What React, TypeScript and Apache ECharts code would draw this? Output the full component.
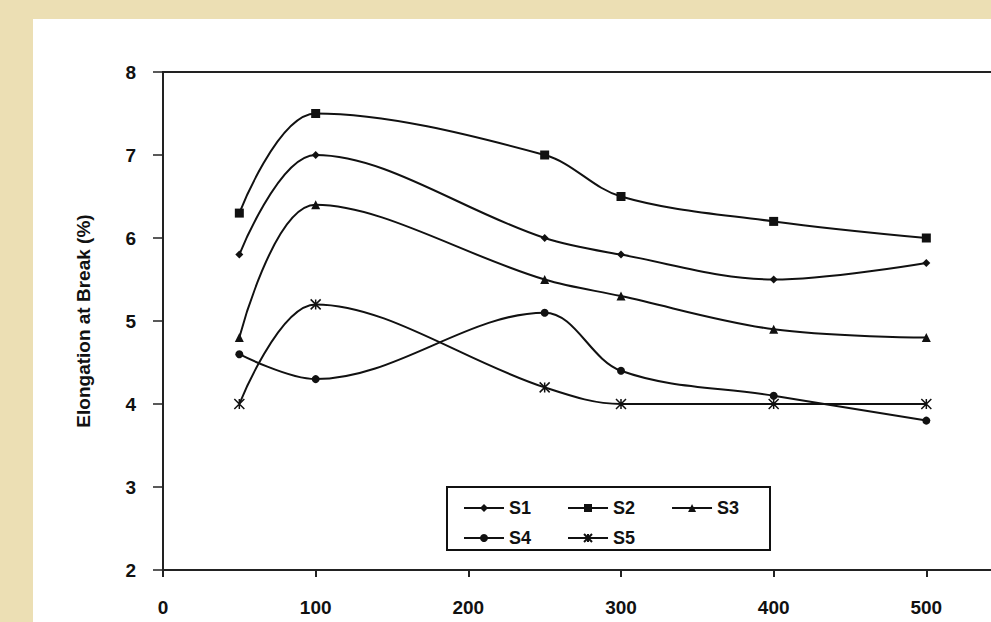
import React, { useEffect, useRef } from "react";
import * as echarts from "echarts";

const xValues = [50, 100, 250, 300, 400, 500];
const s1 = [5.8, 7.0, 6.0, 5.8, 5.5, 5.7];
const s2 = [6.3, 7.5, 7.0, 6.5, 6.2, 6.0];
const s3 = [4.8, 6.4, 5.5, 5.3, 4.9, 4.8];
const s4 = [4.6, 4.3, 5.1, 4.4, 4.1, 3.8];
const s5 = [4.0, 5.2, 4.2, 4.0, 4.0, 4.0];
const seriesNames = ["S1", "S2", "S3", "S4", "S5"];
const yTitle = "Elongation at Break (%)";

const asterisk = "path://M0,0L10,10M10,0L0,10M5,0L5,10";

export default function App() {
  const ref = useRef<HTMLDivElement>(null);
  useEffect(() => {
    if (!ref.current) return;
    const chart = echarts.init(ref.current, null, { renderer: "svg" });
    const all = [s1, s2, s3, s4, s5];
    const symbols = ["diamond", "rect", "triangle", "circle", asterisk];
    const sizes = [8, 9, 9, 8, 10];
    const font = "Liberation Sans, Arial, sans-serif";
    const legendText = { fontFamily: font, fontWeight: "bold", fontSize: 18, color: "#111" };
    chart.setOption({
      animation: false,
      backgroundColor: "#ecdfb4",
      graphic: [
        {
          type: "rect",
          shape: { x: 33, y: 19, width: 1200, height: 700 },
          style: { fill: "#ffffff" },
          z: -10,
        },
        {
          type: "rect",
          shape: { x: 447, y: 487, width: 323, height: 63 },
          style: { fill: "none", stroke: "#111", lineWidth: 2 },
          z: 10,
        },
      ],
      grid: {
        left: 163,
        top: 72,
        right: 21,
        bottom: 52,
        show: true,
        borderColor: "#222",
        borderWidth: 2,
        backgroundColor: "#fff",
      },
      legend: [
        {
          data: seriesNames.slice(0, 3),
          left: 458,
          top: 494,
          itemWidth: 40,
          itemHeight: 10,
          itemGap: 36,
          textStyle: legendText,
        },
        {
          data: seriesNames.slice(3),
          left: 458,
          top: 524,
          itemWidth: 40,
          itemHeight: 10,
          itemGap: 36,
          textStyle: legendText,
        },
      ],
      xAxis: {
        type: "value",
        min: 0,
        max: 600,
        interval: 100,
        axisLine: { show: true, lineStyle: { color: "#222", width: 2 } },
        axisTick: { show: true, inside: false, length: 7, lineStyle: { color: "#222", width: 2 } },
        axisLabel: {
          fontFamily: font,
          fontWeight: "bold",
          fontSize: 19,
          color: "#111",
          margin: 28,
          showMaxLabel: false,
        },
        splitLine: { show: false },
      },
      yAxis: {
        type: "value",
        min: 2,
        max: 8,
        interval: 1,
        name: yTitle,
        nameLocation: "middle",
        nameGap: 70,
        nameTextStyle: { fontFamily: font, fontWeight: "bold", fontSize: 19, color: "#111" },
        axisLine: { show: true, lineStyle: { color: "#222", width: 2 } },
        axisTick: { show: true, inside: false, length: 10, lineStyle: { color: "#222", width: 1.5 } },
        axisLabel: {
          fontFamily: font,
          fontWeight: "bold",
          fontSize: 19,
          color: "#111",
          margin: 27,
        },
        splitLine: { show: false },
      },
      series: all.map((vals, i) => ({
        name: seriesNames[i],
        type: "line",
        smooth: 0.35,
        data: xValues.map((x, j) => [x, vals[j]]),
        symbol: symbols[i],
        symbolSize: sizes[i],
        showSymbol: true,
        lineStyle: { color: "#111", width: 2 },
        itemStyle:
          i === 4
            ? { color: "#111", borderColor: "#111", borderWidth: 1.5 }
            : { color: "#111", borderWidth: 0 },
      })),
    });
    return () => chart.dispose();
  }, []);
  return (
    <div
      style={{
        position: "fixed",
        left: 0,
        top: 0,
        width: 991,
        height: 622,
        overflow: "hidden",
        background: "#ecdfb4",
      }}
    >
      <div ref={ref} style={{ width: 1100, height: 622 }} />
    </div>
  );
}
